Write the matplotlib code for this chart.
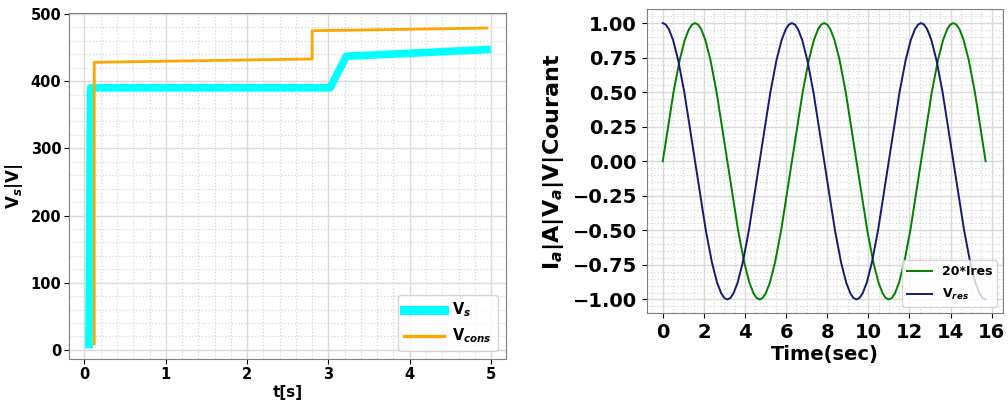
import matplotlib
matplotlib.use('Agg')
import matplotlib.pyplot as plt
from matplotlib.ticker import AutoMinorLocator

plt.rcParams['font.family'] = ['DejaVu Sans']
plt.rcParams['font.weight'] = 'bold'
plt.rcParams['mathtext.default'] = 'it'

# --- gauche : tension Vs et consigne
t_vs = [0.055, 0.075, 3.02, 3.22, 4.95]
v_s = [8, 390, 390, 437, 447]
t_cons = [0.12, 0.12, 2.8, 2.8, 4.95]
v_cons = [9, 428, 433, 475, 479]

# --- droite : courant (20*Ires) et tension Vres
t_ires = [0.0, 0.521, 0.821, 1.071, 1.271, 1.421,
          1.571, 1.721, 1.871, 2.071, 2.321, 2.621,
          3.142, 3.663, 3.963, 4.213, 4.413, 4.562,
          4.712, 4.862, 5.012, 5.212, 5.462, 5.762,
          6.283, 6.804, 7.104, 7.354, 7.554, 7.704,
          7.854, 8.004, 8.154, 8.354, 8.604, 8.904,
          9.425, 9.946, 10.246, 10.496, 10.696, 10.846,
          10.996, 11.146, 11.296, 11.496, 11.746, 12.046,
          12.566, 13.087, 13.387, 13.637, 13.837, 13.987,
          14.137, 14.287, 14.437, 14.637, 14.887, 15.187,
          15.708]
i_res = [0.0, 0.498, 0.732, 0.878, 0.955, 0.989,
         1.0, 0.989, 0.955, 0.878, 0.732, 0.498,
         0.0, -0.498, -0.732, -0.878, -0.955, -0.989,
         -1.0, -0.989, -0.955, -0.878, -0.732, -0.498,
         0.0, 0.498, 0.732, 0.878, 0.955, 0.989,
         1.0, 0.989, 0.955, 0.878, 0.732, 0.498,
         0.0, -0.498, -0.732, -0.878, -0.955, -0.989,
         -1.0, -0.989, -0.955, -0.878, -0.732, -0.498,
         0.0, 0.498, 0.732, 0.878, 0.955, 0.989,
         1.0, 0.989, 0.955, 0.878, 0.732, 0.498,
         0.0]

t_vres = [0.0, 0.15, 0.30, 0.50, 0.75, 1.05,
          1.571, 2.092, 2.392, 2.642, 2.842, 2.992,
          3.142, 3.292, 3.442, 3.642, 3.892, 4.192,
          4.712, 5.233, 5.533, 5.783, 5.983, 6.133,
          6.283, 6.433, 6.583, 6.783, 7.033, 7.333,
          7.854, 8.375, 8.675, 8.925, 9.125, 9.275,
          9.425, 9.575, 9.725, 9.925, 10.175, 10.475,
          10.996, 11.517, 11.817, 12.067, 12.267, 12.417,
          12.566, 12.716, 12.866, 13.066, 13.316, 13.616,
          14.137, 14.658, 14.958, 15.208, 15.408, 15.558,
          15.708]
v_res = [1.0, 0.989, 0.955, 0.878, 0.732, 0.498,
         0.0, -0.498, -0.732, -0.878, -0.955, -0.989,
         -1.0, -0.989, -0.955, -0.878, -0.732, -0.498,
         0.0, 0.498, 0.732, 0.878, 0.955, 0.989,
         1.0, 0.989, 0.955, 0.878, 0.732, 0.498,
         0.0, -0.498, -0.732, -0.878, -0.955, -0.989,
         -1.0, -0.989, -0.955, -0.878, -0.732, -0.498,
         0.0, 0.498, 0.732, 0.878, 0.955, 0.989,
         1.0, 0.989, 0.955, 0.878, 0.732, 0.498,
         0.0, -0.498, -0.732, -0.878, -0.955, -0.989,
         -1.0]


def grille(ax):
    ax.xaxis.set_minor_locator(AutoMinorLocator())
    ax.yaxis.set_minor_locator(AutoMinorLocator())
    ax.grid(which='major', color='#dadada', linewidth=1.0)
    ax.grid(which='minor', color='#d8d8d8', linestyle=':', linewidth=0.9)
    ax.tick_params(which='minor', length=0)
    for s in ax.spines.values():
        s.set_color('#808080')


fig = plt.figure(figsize=(10.08, 4), dpi=100)

# graphe gauche
ax1 = fig.add_axes([0.0685, 0.1018, 0.4332, 0.865])
ax1.plot(t_vs, v_s, color='cyan', linewidth=5.5, label='V$_s$')
ax1.plot(t_cons, v_cons, color='orange', linewidth=2, label='V$_{cons}$')
ax1.set_xlim(-0.19, 5.18)
ax1.set_ylim(-14, 501)
ax1.set_xticks([0, 1, 2, 3, 4, 5])
ax1.set_yticks([0, 100, 200, 300, 400, 500])
grille(ax1)
ax1.tick_params(which='major', labelsize=10.5, pad=2)
ax1.set_xlabel('t[s]', fontsize=11, fontweight='bold', labelpad=2)
ax1.set_ylabel('V$_s$|V|', fontsize=12, fontweight='bold', labelpad=4)
leg1 = ax1.legend(loc='lower right', fontsize=10.5, handlelength=2.7,
                  handletextpad=0.6, borderaxespad=0.55)
for ln in leg1.get_lines():
    ln.set_linewidth(ln.get_linewidth() * 1.2)

# graphe droite
ax2 = fig.add_axes([0.6416, 0.2168, 0.3538, 0.76])
ax2.plot(t_ires, i_res, color='green', linewidth=1.4, label='20*Ires')
ax2.plot(t_vres, v_res, color='midnightblue', linewidth=1.4, label='V$_{res}$')
ax2.set_xlim(-0.78, 16.57)
ax2.set_ylim(-1.1, 1.1)
ax2.set_xticks(range(0, 17, 2))
ax2.set_yticks([-1.0, -0.75, -0.5, -0.25, 0.0, 0.25, 0.5, 0.75, 1.0])
ax2.set_yticklabels(['−1.00', '−0.75', '−0.50', '−0.25', '0.00',
                     '0.25', '0.50', '0.75', '1.00'])
grille(ax2)
ax2.tick_params(which='major', labelsize=14)
ax2.set_xlabel('Time(sec)', fontsize=14, fontweight='bold', labelpad=2)
ax2.set_ylabel('I$_a$|A|V$_a$|V|Courant', fontsize=16, fontweight='bold', labelpad=5)
ax2.legend(loc='lower right', fontsize=9, handlelength=2.0, labelspacing=0.7,
           borderaxespad=0.5)

fig.savefig('out.png', dpi=100)
